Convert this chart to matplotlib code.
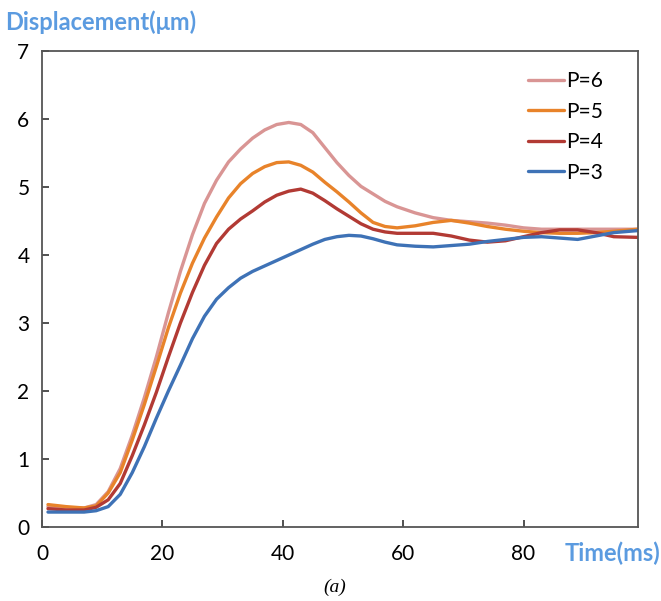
import matplotlib
matplotlib.use("Agg")
import matplotlib.pyplot as plt

plt.rcParams['font.family'] = ['Lato', 'DejaVu Sans']

# time axis (ms) shared by all series
t = [1, 4, 7, 9, 11, 13, 15, 17, 19, 21, 23, 25, 27, 29, 31, 33, 35, 37, 39, 41,
     43, 45, 47, 49, 51, 53, 55, 57, 59, 62, 65, 68, 71, 74, 77, 80, 83, 86, 89,
     92, 95, 99]

# displacement (um)
p6 = [0.30, 0.28, 0.28, 0.33, 0.52, 0.86, 1.35, 1.90, 2.50, 3.15, 3.76, 4.30,
      4.76, 5.10, 5.37, 5.56, 5.72, 5.84, 5.92, 5.95, 5.92, 5.80, 5.58, 5.36,
      5.17, 5.01, 4.90, 4.79, 4.71, 4.62, 4.55, 4.51, 4.49, 4.47, 4.44, 4.40,
      4.38, 4.38, 4.38, 4.38, 4.38, 4.38]
p5 = [0.33, 0.30, 0.28, 0.31, 0.50, 0.80, 1.28, 1.80, 2.36, 2.93, 3.44, 3.88,
      4.25, 4.56, 4.84, 5.05, 5.20, 5.30, 5.36, 5.37, 5.32, 5.22, 5.07, 4.93,
      4.78, 4.62, 4.48, 4.42, 4.40, 4.43, 4.48, 4.51, 4.47, 4.42, 4.38, 4.35,
      4.33, 4.32, 4.32, 4.33, 4.35, 4.38]
p4 = [0.27, 0.25, 0.25, 0.29, 0.40, 0.64, 1.05, 1.50, 1.98, 2.50, 3.00, 3.45,
      3.85, 4.17, 4.38, 4.53, 4.65, 4.78, 4.88, 4.94, 4.97, 4.91, 4.80, 4.68,
      4.57, 4.46, 4.38, 4.34, 4.32, 4.32, 4.32, 4.28, 4.22, 4.19, 4.21, 4.27,
      4.33, 4.37, 4.37, 4.33, 4.27, 4.26]
p3 = [0.22, 0.22, 0.22, 0.24, 0.30, 0.48, 0.80, 1.18, 1.60, 2.00, 2.38, 2.77,
      3.10, 3.35, 3.52, 3.66, 3.76, 3.84, 3.92, 4.00, 4.08, 4.16, 4.23, 4.27,
      4.29, 4.28, 4.24, 4.19, 4.15, 4.13, 4.12, 4.14, 4.16, 4.20, 4.23, 4.26,
      4.27, 4.25, 4.23, 4.28, 4.33, 4.36]

series = [("P=6", p6, "#D99594"), ("P=5", p5, "#E8832A"),
          ("P=4", p4, "#B23A34"), ("P=3", p3, "#3E72B6")]

fig = plt.figure(figsize=(6.61, 6.01), dpi=100)
ax = fig.add_axes([0.0635, 0.1231, 0.9015, 0.7919])

for label, y, c in series:
    ax.plot(t, y, color=c, lw=2.4, label=label,
            solid_capstyle='round', solid_joinstyle='round')

ax.set_xlim(0, 99)
ax.set_ylim(0, 7)
ax.set_xticks([0, 20, 40, 60, 80])
ax.set_yticks(range(0, 8))
ax.tick_params(direction='in', length=5, width=1.2, labelsize=15,
               top=False, right=False, color='#333333')
ax.tick_params(axis='x', pad=12)
ax.tick_params(axis='y', pad=9)
for s in ax.spines.values():
    s.set_color('#555555')
    s.set_linewidth(1.3)

leg = ax.legend(loc='upper right', frameon=False, fontsize=15,
                handlelength=1.7, handletextpad=0.1, labelspacing=0.5,
                borderaxespad=0, bbox_to_anchor=(0.955, 0.975))

fig.text(0.008, 0.963, "Displacement(\u03bcm)", color='#5B9BE0',
         fontsize=17, fontweight='bold', ha='left', va='center')
fig.text(0.999, 0.08, "Time(ms)", color='#5B9BE0', fontsize=17,
         fontweight='bold', ha='right', va='center')
fig.text(0.507, 0.023, "(a)", fontsize=14, style='italic',
         family='Liberation Serif', ha='center', va='center')

fig.savefig("out.png", dpi=100)
